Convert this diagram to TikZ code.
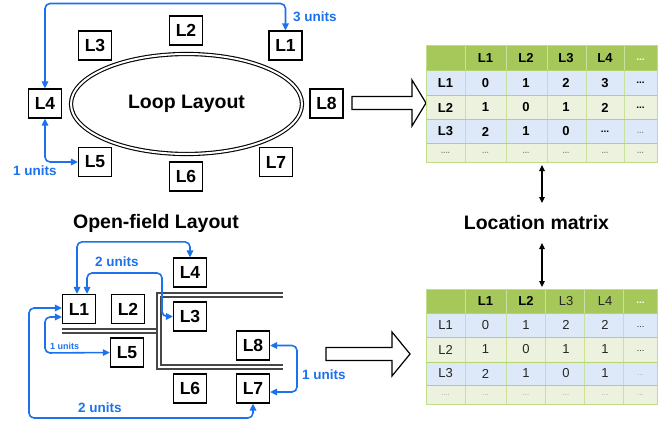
\documentclass[tikz,border=0pt]{standalone}
\usepackage{fontspec}
\setmainfont{Liberation Sans}
\usetikzlibrary{arrows.meta,shapes.geometric}
\definecolor{blu}{RGB}{28,113,236}
\definecolor{hdr}{RGB}{166,200,90}
\definecolor{rowb}{RGB}{221,233,248}
\definecolor{rowg}{RGB}{237,242,222}
\definecolor{gridc}{RGB}{178,212,110}
\newcommand\mrow[9]{%
  \node[#9] (#1a) at (445.5,#2) {#3};
  \node[#9] (#1b) at (485.5,#2) {#4};
  \node[#9] (#1c) at (526,#2) {#5};
  \node[#9] (#1d) at (566,#2) {#6};
  \node[#9] (#1e) at (605,#2) {#7};
  \node[#9] (#1f) at (640.5,#2) {#8};
}
\newcommand\sdots{{\fontsize{10}{10}\selectfont...}}
\begin{document}
\begin{tikzpicture}[x=1pt,y=-1pt,
  lbox/.style={draw, line width=1.25pt, minimum width=33pt, minimum height=29pt, inner sep=0pt, font=\bfseries\fontsize{17.5}{17.5}\selectfont},
  conn/.style={draw=blu, line width=1.6pt, rounded corners=5pt, {Triangle[length=7pt,width=6.5pt]}-{Triangle[length=7pt,width=6.5pt]}},
  vconn/.style={draw=black, line width=1.2pt, {Triangle[length=6pt,width=5.5pt]}-{Triangle[length=6pt,width=5.5pt]}},
  ulab/.style={text=blu, font=\bfseries\fontsize{13.5}{13.5}\selectfont, inner sep=0pt, anchor=west},
  wall/.style={draw=black!72, line width=1.4pt, double=white, double distance=2.4pt},
  bigarrow/.style={draw=black, line width=1.2pt, fill=white, line join=miter},
  title/.style={font=\bfseries\fontsize{19.5}{19.5}\selectfont, inner sep=0pt},
  cellb/.style={font=\bfseries\fontsize{13}{13}\selectfont, inner sep=0pt},
  cellw/.style={font=\bfseries\fontsize{10}{10}\selectfont, inner sep=0pt, text=white},
  celln/.style={font=\fontsize{13}{13}\selectfont, inner sep=0pt, text=black!85},
  celld/.style={font=\fontsize{8}{8}\selectfont, inner sep=0pt, text=black!35},
  cellbd/.style={font=\bfseries\fontsize{8}{8}\selectfont, inner sep=0pt, text=black!45}]
\useasboundingbox (0,0) rectangle (667,423);

% ---------------- Loop layout ----------------
\node[ellipse, draw, line width=1.1pt, double=white, double distance=2pt,
      minimum width=231pt, minimum height=100pt, inner sep=0pt,
      font=\bfseries\fontsize{19.5}{19.5}\selectfont] (loop) at (186.5,104) {Loop Layout};
\node[lbox] (L1) at (285.5,45.5) {L1};
\node[lbox] (L2) at (186,30.5) {L2};
\node[lbox] (L3) at (95,45.5) {L3};
\node[lbox] (L4) at (45,103.5) {L4};
\node[lbox] (L5) at (95,162) {L5};
\node[lbox] (L6) at (186,176.5) {L6};
\node[lbox] (L7) at (276,162) {L7};
\node[lbox] (L8) at (326.5,103.5) {L8};
\coordinate (t3) at (285.5,3.5);
\draw[conn] (L4.north) |- (t3) -- (L1.north);
\draw[conn] (L4.south) |- (L5.west);
\node[ulab] (u3) at (293,17) {3 units};
\node[ulab] (u1) at (13,171) {1 units};

% big arrow top
\draw[bigarrow] (352,96.5) -- (412,96.5) -- (412,80) -- (426,103) -- (412,126) -- (412,109.5) -- (352,109.5) -- cycle;

% ---------------- top matrix ----------------
\fill[hdr] (426,45) rectangle (657,70);
\fill[rowb] (426,70) rectangle (657,95);
\fill[rowg] (426,95) rectangle (657,119);
\fill[rowb] (426,119) rectangle (657,143);
\fill[rowg] (426,143) rectangle (657,162);
\foreach \x in {465,506,547,586,624} \draw[gridc!70, line width=0.8pt] (\x,45) -- (\x,162);
\foreach \y in {70,95,119,143} \draw[gridc, line width=0.8pt] (426,\y) -- (657,\y);
\draw[gridc!80, line width=0.8pt] (426,45) rectangle (657,162);
\mrow{ha}{58}{}{L1}{L2}{L3}{L4}{}{cellb}
\node[cellw] (haf2) at (640.5,60) {...};
\mrow{ra}{83}{L1}{0}{1}{2}{3}{\sdots}{cellb}
\mrow{rb}{107.5}{L2}{1}{0}{1}{2}{\sdots}{cellb}
\mrow{rc}{131.5}{L3}{2}{1}{0}{\sdots}{}{cellb}
\node[cellbd] (rcf2) at (640.5,133) {...};
\mrow{rd}{153}{....}{...}{...}{...}{...}{...}{cellbd}

% ---------------- location matrix ----------------
\node[title] (lm) at (536.5,223) {Location matrix};
\coordinate (va1) at (542,165);
\coordinate (va2) at (542,203);
\coordinate (vb1) at (542,243);
\coordinate (vb2) at (542,287);
\draw[vconn] (va1) -- (va2);
\draw[vconn] (vb1) -- (vb2);

% ---------------- Open-field layout ----------------
\node[title] (ofl) at (156,223) {Open-field Layout};
\draw[wall] (62,331) -- (157.5,331);
\draw[wall] (283,295) -- (159,295) -- (159,367) -- (283,367);
\node[lbox] (M1) at (79,309) {L1};
\node[lbox] (M2) at (128,309) {L2};
\node[lbox] (M3) at (190,316.5) {L3};
\node[lbox] (M4) at (190,272.5) {L4};
\node[lbox] (M5) at (127,352.5) {L5};
\node[lbox] (M6) at (190,388.5) {L6};
\node[lbox] (M7) at (253,388.5) {L7};
\node[lbox] (M8) at (253,345.5) {L8};
\coordinate (oc2) at (162,273);
\coordinate (oc3) at (45,353);
\coordinate (oc4) at (29,418);
\coordinate (oc5) at (297,392);
\draw[conn] ([xshift=-2pt]M1.north) -- ++(0,-52) -| (M4.north);
\draw[conn] ([xshift=8pt]M1.north) |- (oc2) |- (M3.west);
\draw[conn] ([yshift=-8pt]M1.west) -| (oc3) -- (M5.west);
\draw[conn] ([yshift=1pt]M1.west) -| (oc4) -| (M7.south);
\draw[conn] (M8.east) -| (oc5) -- ([yshift=-3.5pt]M7.east);
\node[ulab] (v2a) at (95,262) {2 units};
\node[ulab, font=\bfseries\fontsize{9}{9}\selectfont] (v1a) at (50,346) {1 units};
\node[ulab] (v2b) at (78,408) {2 units};
\node[ulab] (v1b) at (302,375) {1 units};

% big arrow bottom
\draw[bigarrow] (326,347.5) -- (392,347.5) -- (392,332) -- (410,354) -- (392,376) -- (392,360.5) -- (326,360.5) -- cycle;

% ---------------- bottom matrix ----------------
\fill[hdr] (426,289) rectangle (657,313);
\fill[rowb] (426,313) rectangle (657,337);
\fill[rowg] (426,337) rectangle (657,362);
\fill[rowb] (426,362) rectangle (657,385);
\fill[rowg] (426,385) rectangle (657,404);
\foreach \x in {465,506,545,584,623} \draw[gridc!70, line width=0.8pt] (\x,289) -- (\x,404);
\foreach \y in {313,337,362,385} \draw[gridc, line width=0.8pt] (426,\y) -- (657,\y);
\draw[gridc!80, line width=0.8pt] (426,289) rectangle (657,404);
\node[cellb] (hb1) at (485.5,301) {L1};
\node[cellb] (hb2) at (526,301) {L2};
\node[celln] (hb3) at (566,301) {L3};
\node[celln] (hb4) at (605,301) {L4};
\node[cellw] (hb5) at (640.5,303) {...};
\mrow{sa}{325}{L1}{0}{1}{2}{2}{}{celln}
\node[celln, font=\fontsize{9}{9}\selectfont] (saf2) at (640.5,327) {...};
\mrow{sb}{349.5}{L2}{1}{0}{1}{1}{}{celln}
\node[celln, font=\fontsize{9}{9}\selectfont] (sbf2) at (640.5,351.5) {...};
\mrow{sc}{373.5}{L3}{2}{1}{0}{1}{}{celln}
\node[celld] (sce) at (640.5,375) {...};
\mrow{sd}{395}{....}{...}{...}{...}{...}{...}{celld}
\end{tikzpicture}
\end{document}
